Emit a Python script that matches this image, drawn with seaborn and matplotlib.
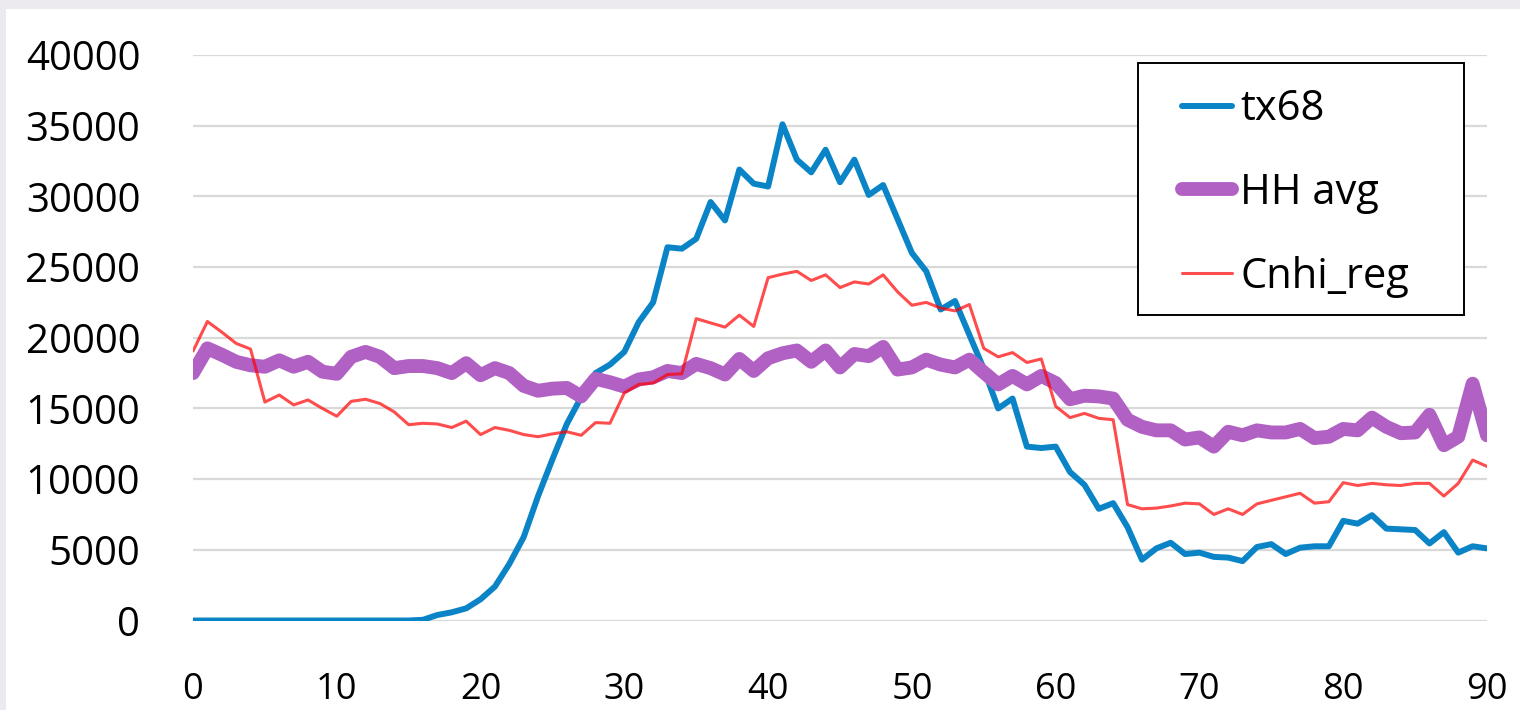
import matplotlib
matplotlib.use("Agg")
import matplotlib.pyplot as plt
import seaborn as sns
import pandas as pd
from matplotlib.patches import Rectangle

# Day index 0..90
days = list(range(91))

tx68 = [
    0, 0, 0, 0, 0, 0, 0, 0, 0, 0,
    0, 0, 0, 0, 0, 0, 50, 390, 580, 860,
    1500, 2400, 4000, 5900, 8800, 11400, 13900, 15800, 17500, 18100,
    19000, 21100, 22500, 26400, 26300, 27000, 29600, 28300, 31900, 30900,
    30700, 35100, 32600, 31700, 33300, 31000, 32600, 30100, 30800, 28400,
    26000, 24700, 22000, 22600, 20200, 17800, 15000, 15700, 12300, 12200,
    12300, 10500, 9600, 7900, 8300, 6600, 4300, 5100, 5500, 4700,
    4800, 4500, 4450, 4200, 5200, 5400, 4700, 5150, 5250, 5250,
    7050, 6850, 7450, 6500, 6450, 6400, 5450, 6250, 4800, 5250,
    5100,
]

hh_avg = [
    17500, 19250, 18800, 18300, 18050, 17950, 18400, 17950, 18300, 17600,
    17450, 18650, 19000, 18650, 17850, 18000, 18000, 17850, 17500, 18200,
    17350, 17850, 17500, 16600, 16250, 16400, 16450, 15850, 17100, 16850,
    16550, 17050, 17200, 17650, 17500, 18150, 17850, 17400, 18500, 17650,
    18550, 18900, 19100, 18300, 19100, 17900, 18850, 18700, 19350, 17750,
    17900, 18450, 18100, 17900, 18450, 17550, 16700, 17300, 16700, 17300,
    16800, 15650, 15900, 15850, 15700, 14200, 13700, 13450, 13450, 12800,
    12950, 12300, 13350, 13100, 13450, 13300, 13300, 13550, 12900, 13000,
    13550, 13450, 14350, 13700, 13250, 13300, 14550, 12400, 13000, 16750,
    13100,
]

cnhi_reg = [
    19050, 21150, 20400, 19600, 19200, 15450, 15950, 15250, 15600, 15000,
    14450, 15500, 15650, 15350, 14750, 13850, 13950, 13900, 13650, 14100,
    13150, 13650, 13450, 13150, 13000, 13200, 13350, 13100, 14000, 13950,
    16100, 16700, 16800, 17400, 17450, 21350, 21050, 20750, 21600, 20800,
    24250, 24500, 24700, 24050, 24450, 23550, 23950, 23800, 24450, 23250,
    22300, 22500, 22100, 21900, 22350, 19250, 18650, 18950, 18250, 18500,
    15150, 14350, 14650, 14300, 14200, 8200, 7900, 7950, 8100, 8300,
    8250, 7500, 7900, 7500, 8250, 8500, 8750, 9000, 8300, 8400,
    9750, 9550, 9700, 9600, 9550, 9700, 9700, 8800, 9700, 11350,
    10900,
]

df = pd.DataFrame({"day": days, "tx68": tx68, "HH avg": hh_avg, "Cnhi_reg": cnhi_reg})

sns.set_style("white")
plt.rcParams["font.family"] = ["Open Sans", "DejaVu Sans"]
plt.rcParams["text.color"] = "black"

fig = plt.figure(figsize=(15.2, 7.1), dpi=100)
fig.patch.set_facecolor("#ECEAEF")
# white chart area inside the faint outer border
fig.patches.append(Rectangle((6 / 1520, 0), 1 - 6 / 1520, 1 - 9 / 710,
                             transform=fig.transFigure, facecolor="white",
                             edgecolor="none", zorder=-5))

ax = fig.add_axes([193 / 1520, 89.5 / 710, 1294 / 1520, 565.5 / 710])
ax.set_zorder(2)
ax.set_facecolor("none")

sns.lineplot(data=df, x="day", y="tx68", color="#0A84C6", linewidth=4.3,
             label="tx68", ax=ax, solid_joinstyle="round", solid_capstyle="round")
sns.lineplot(data=df, x="day", y="HH avg", color="#B160C4", linewidth=10,
             label="HH avg", ax=ax, solid_joinstyle="round", solid_capstyle="round")
sns.lineplot(data=df, x="day", y="Cnhi_reg", color="#FF0000", alpha=0.7,
             linewidth=2.2, label="Cnhi_reg", ax=ax)

ax.set_xlim(0, 90)
ax.set_ylim(0, 40000)
ax.set_xticks(range(0, 91, 10))
ax.set_yticks(range(0, 40001, 5000))
ax.set_xlabel("")
ax.set_ylabel("")
ax.grid(axis="y", color="#D9D9D9", linewidth=1.6)
ax.grid(axis="x", visible=False)
ax.set_axisbelow(True)
for s in ax.spines.values():
    s.set_visible(False)
ax.tick_params(axis="y", length=0, pad=38, labelsize=29, labelcolor="black")
ax.tick_params(axis="x", length=0, pad=37, labelsize=26, labelcolor="black")

# legend box drawn separately so padding matches the reference
ax.add_patch(Rectangle((0.7303, 0.5402), 0.9822 - 0.7303, 0.9859 - 0.5402,
                       transform=ax.transAxes, facecolor="white",
                       edgecolor="black", linewidth=1.4, zorder=4))
leg = ax.legend(loc="upper left", bbox_to_anchor=(0.7643, 0.941), fontsize=30,
                frameon=False, handlelength=1.2, handletextpad=0.2,
                labelspacing=1.0, borderpad=0, borderaxespad=0)
leg.set_zorder(5)
for t in leg.get_texts():
    t.set_color("black")

fig.savefig("out.png", dpi=100, facecolor=fig.get_facecolor())
